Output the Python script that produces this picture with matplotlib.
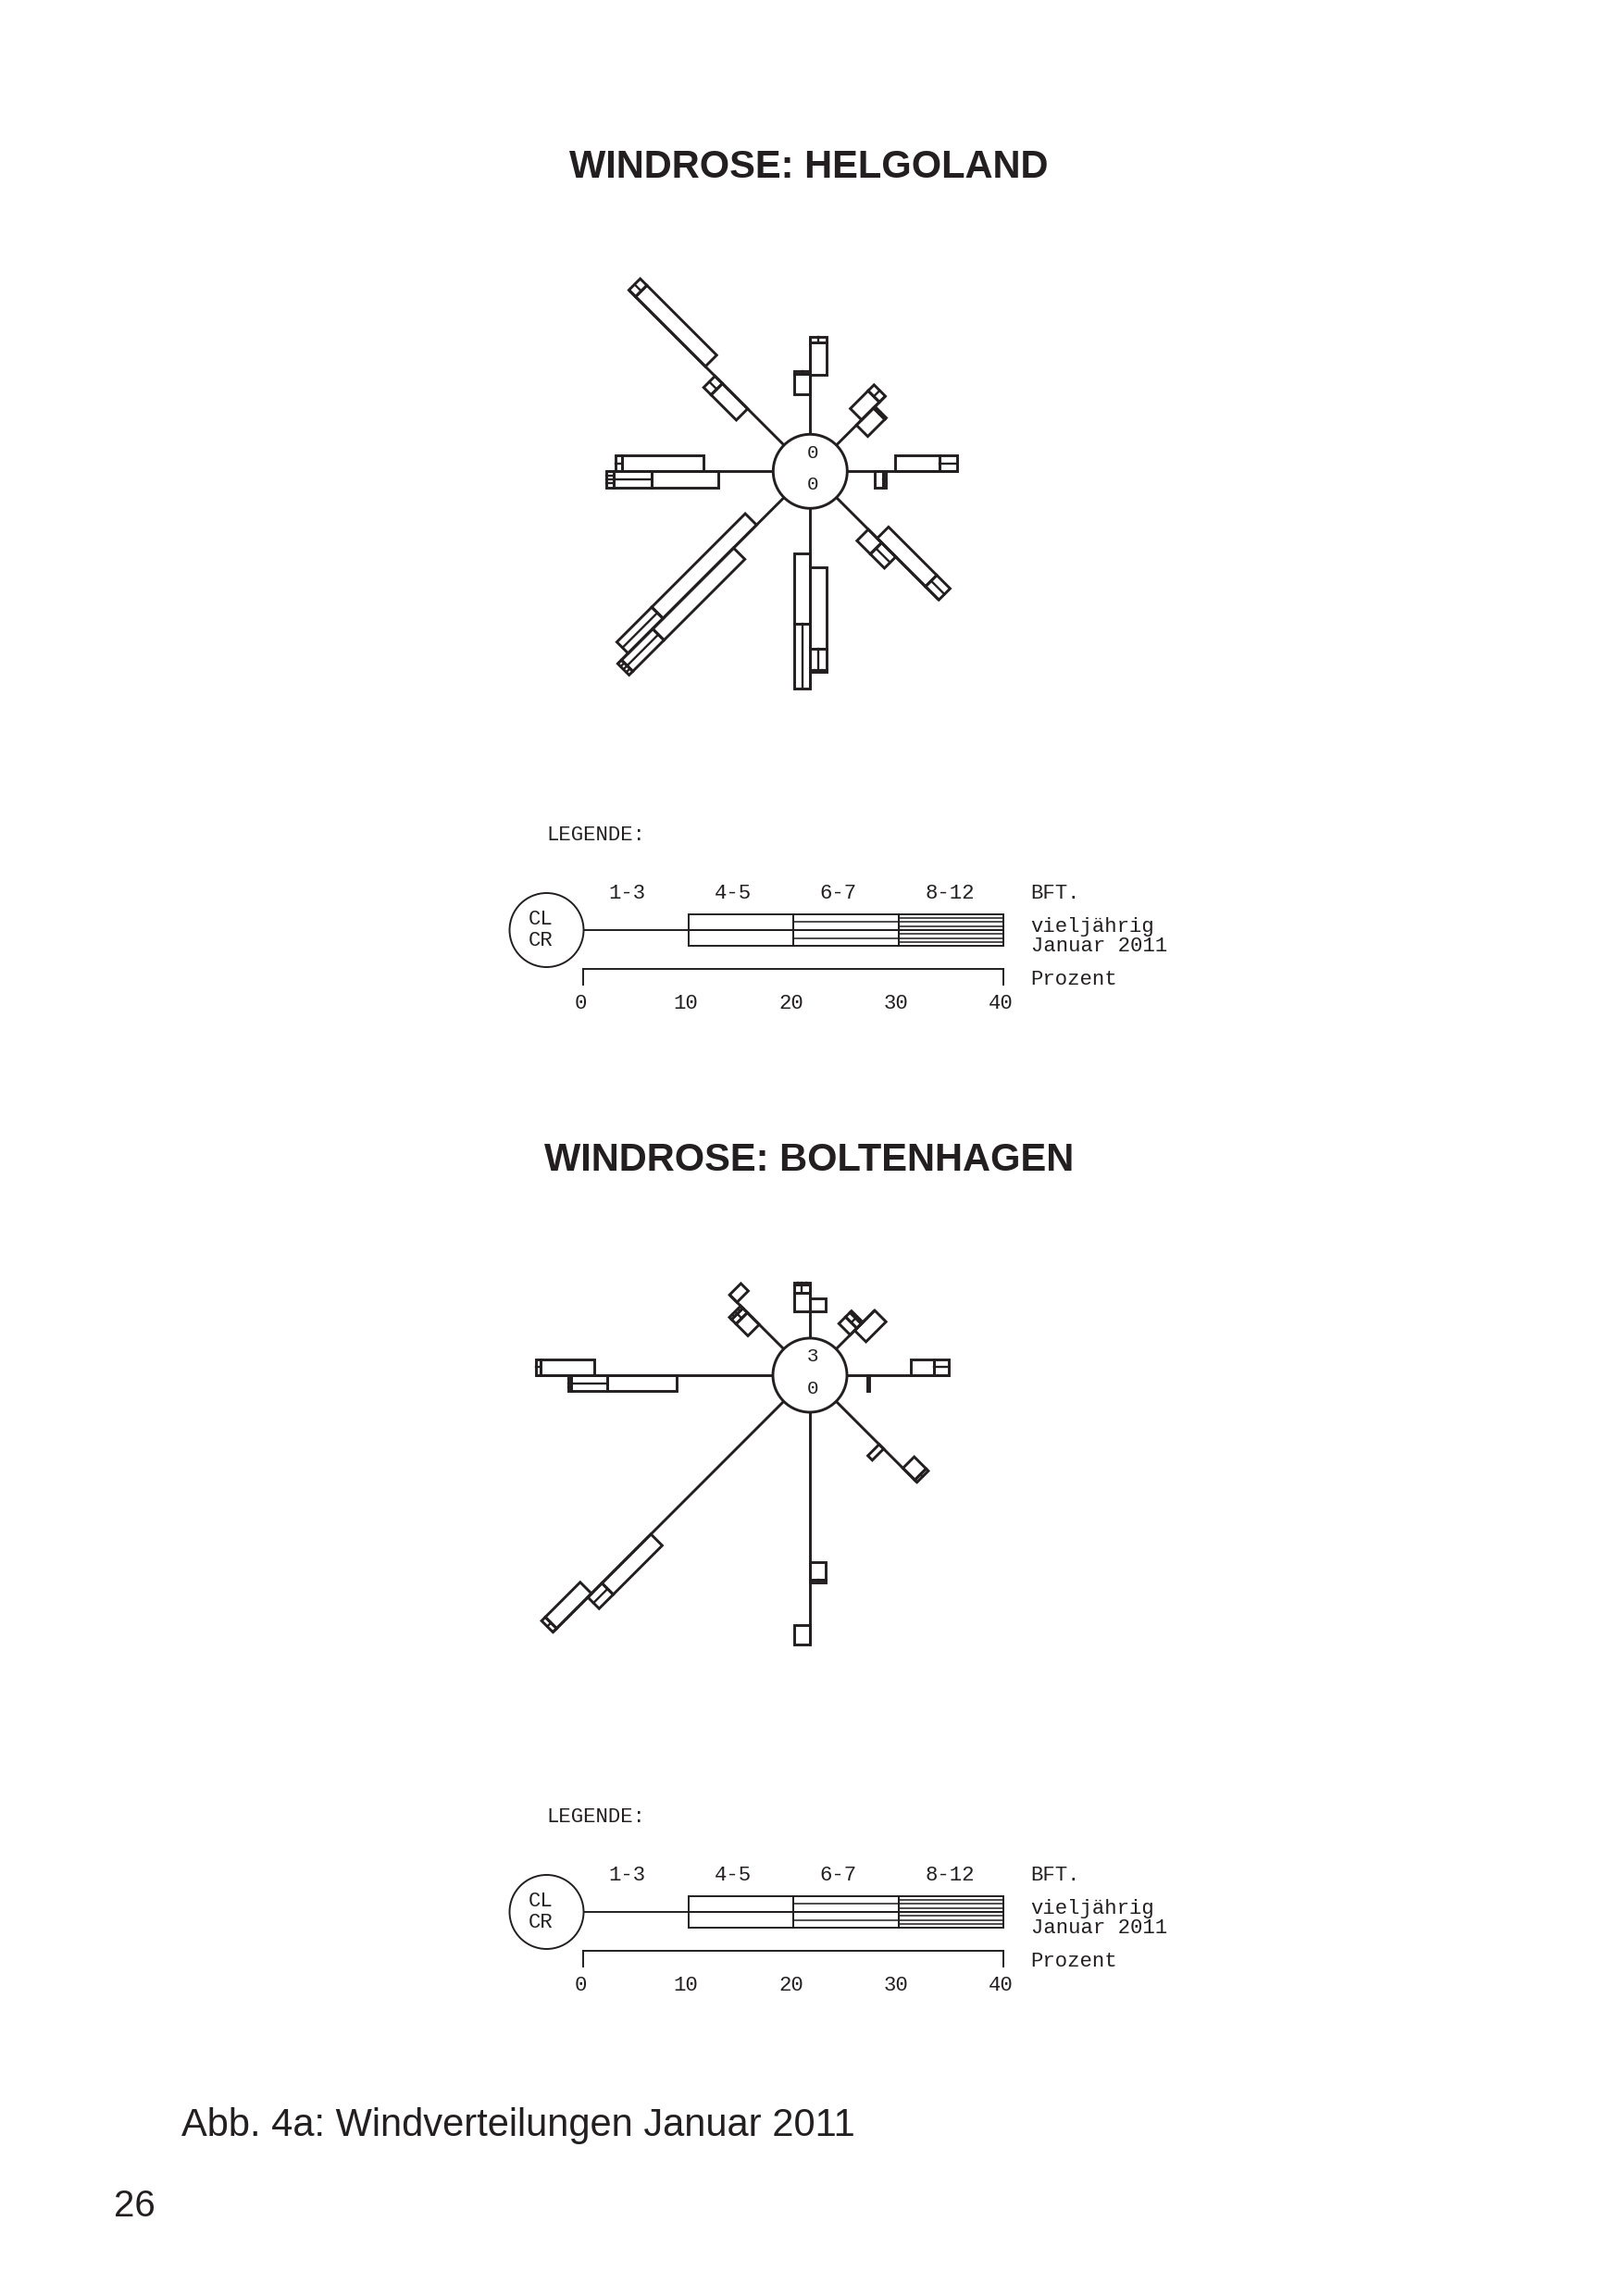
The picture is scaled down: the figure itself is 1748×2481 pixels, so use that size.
"""
Windrosen Helgoland / Boltenhagen, Januar 2011 (Abb. 4a)
Each direction: two half-bars, vieljährig on the counter-clockwise side,
Januar 2011 on the clockwise side. 1-3 Bft is only the ray line.
"""
import numpy as np
import matplotlib
matplotlib.use("Agg")
import matplotlib.pyplot as plt
from matplotlib.patches import Polygon, Circle

W, H, DPI = 1749, 2481, 100
PX = 11.34            # pixels per percent
R0 = 40 / PX          # calm circle radius in percent units
BW = 17.3 / PX        # width of one half-bar in percent units
INK = "#231f20"
MONO = "Liberation Mono"
SANS = "Liberation Sans"

DIRS = ["N", "NE", "E", "SE", "S", "SW", "W", "NW"]
BFT = ["1-3", "4-5", "6-7", "8-12"]

# percent per direction (N..NW) and Beaufort class (1-3, 4-5, 6-7, 8-12)
HEL_VIEL = [[3.8, 2.0, 0.2, 0.0], [3.4, 2.4, 0.8, 0.0], [4.6, 4.2, 1.7, 0.0],
            [5.5, 6.5, 1.8, 0.0], [5.6, 7.8, 2.0, 0.2], [6.8, 10.9, 4.2, 0.5],
            [5.2, 6.4, 3.6, 0.7], [4.9, 3.4, 1.0, 0.0]]
HEL_JAN = [[5.7, 3.1, 0.5, 0.0], [2.7, 2.3, 0.2, 0.0], [2.6, 0.8, 0.3, 0.0],
           [4.3, 1.8, 1.9, 0.0], [4.3, 6.7, 6.2, 0.0], [3.7, 12.6, 4.7, 0.0],
           [6.6, 7.8, 0.6, 0.0], [10.6, 9.4, 0.9, 0.0]]
HEL_CALM = [0, 0]

BOL_VIEL = [[2.6, 1.7, 0.8, 0.2], [1.9, 0.9, 0.6, 0.2], [6.1, 2.2, 1.4, 0.0],
            [9.0, 1.6, 0.3, 0.0], [14.3, 1.7, 0.2, 0.0], [17.9, 6.6, 1.9, 0.0],
            [9.2, 6.6, 3.4, 0.3], [3.3, 1.6, 0.6, 0.3]]
BOL_JAN = [[2.6, 1.2, 0.0, 0.0], [2.5, 2.7, 0.0, 0.0], [1.9, 0.2, 0.0, 0.0],
           [5.8, 0.6, 0.0, 0.0], [20.3, 1.8, 0.0, 0.0], [25.9, 4.7, 0.5, 0.0],
           [17.0, 5.1, 0.5, 0.0], [6.3, 1.0, 0.0, 0.0]]
BOL_CALM = [3, 0]

LEG_VALS = [10, 10, 10, 10]
LEG_TICKS = [0, 10, 20, 30, 40]


def unit_axes(fig, cx, cy, ext):
    """Axes in percent units centred on pixel (cx, cy), PX pixels per unit."""
    s = ext * PX
    ax = fig.add_axes([(cx - s) / W, 1 - (cy + s) / H, 2 * s / W, 2 * s / H])
    ax.set_xlim(-ext, ext)
    ax.set_ylim(-ext, ext)
    ax.set_axis_off()
    return ax


def draw_arm(ax, ang, viel, jan, lw):
    u = np.array([np.cos(ang), np.sin(ang)])
    tot = max(sum(viel), sum(jan))
    ax.plot([R0 * u[0], (R0 + tot) * u[0]], [R0 * u[1], (R0 + tot) * u[1]],
            color=INK, lw=lw, solid_capstyle="butt")
    for vals, side in [(viel, 1), (jan, -1)]:
        n = np.array([-np.sin(ang), np.cos(ang)]) * side
        edges = R0 + np.concatenate([[0], np.cumsum(vals)])
        for k in range(1, 4):
            a, b = edges[k], edges[k + 1]
            if b - a <= 0:
                continue
            pts = [a * u, b * u, b * u + BW * n, a * u + BW * n]
            ax.add_patch(Polygon(pts, closed=True, fill=False, ec=INK,
                                 lw=lw, joinstyle="miter"))
            nl = [0, 1, 3][k - 1]
            for j in range(1, nl + 1):
                p, q = a * u + BW * n * j / (nl + 1), b * u + BW * n * j / (nl + 1)
                ax.plot([p[0], q[0]], [p[1], q[1]], color=INK, lw=lw * 0.8)


def draw_rose(fig, cx, cy, viel, jan, calm):
    ax = unit_axes(fig, cx, cy, 40)
    ax.add_patch(Circle((0, 0), R0, fill=False, ec=INK, lw=2.1))
    for i in range(len(DIRS)):
        draw_arm(ax, np.deg2rad(90 - 45 * i), viel[i], jan[i], 2.1)
    ax.text(0.24, 1.79, str(calm[0]), family=MONO, fontsize=15, color=INK,
            ha="center", va="center")
    ax.text(0.24, -1.25, str(calm[1]), family=MONO, fontsize=15, color=INK,
            ha="center", va="center")


def draw_legend(fig, cx, cy):
    ax = unit_axes(fig, cx, cy, 60)
    ax.add_patch(Circle((0, 0), R0, fill=False, ec=INK, lw=1.4))
    draw_arm(ax, 0.0, LEG_VALS, LEG_VALS, 1.4)
    kw = dict(family=MONO, fontsize=16, color=INK, va="baseline")
    ax.text(R0 - 3.5, 8.52, "LEGENDE:", ha="left", **kw)
    ax.text(-0.55, 0.5, "CL", ha="center", **kw)
    ax.text(-0.55, -1.47, "CR", ha="center", **kw)
    for lab, x in zip(BFT, [2.4, 12.5, 22.5, 32.5]):
        ax.text(R0 + x, 3.0, lab, ha="left", **kw)
    xr = R0 + 42.6
    ax.text(xr, 3.0, "BFT.", ha="left", **kw)
    ax.text(xr, -0.15, "vieljährig", ha="left", **kw)
    ax.text(xr, -2.06, "Januar 2011", ha="left", **kw)
    ax.text(xr, -5.2, "Prozent", ha="left", **kw)
    # percent scale
    ax.plot([R0, R0 + LEG_TICKS[-1]], [-3.73, -3.73], color=INK, lw=1.4)
    for t in [LEG_TICKS[0], LEG_TICKS[-1]]:
        ax.plot([R0 + t, R0 + t], [-3.73, -5.2], color=INK, lw=1.4)
    for t in LEG_TICKS:
        ax.text(R0 + t - 0.25, -7.5, str(t), ha="center", **kw)


fig = plt.figure(figsize=(W / DPI, H / DPI), dpi=DPI, facecolor="white")

fig.text(874 / W, 1 - 181 / H, "WINDROSE: HELGOLAND", family=SANS,
         fontsize=30, fontweight="bold", color=INK, ha="center", va="center")
draw_rose(fig, 875.3, 509.3, HEL_VIEL, HEL_JAN, HEL_CALM)
draw_legend(fig, 590.5, 1005)

fig.text(874 / W, 1 - 1254 / H, "WINDROSE: BOLTENHAGEN", family=SANS,
         fontsize=30, fontweight="bold", color=INK, ha="center", va="center")
draw_rose(fig, 875.0, 1486.0, BOL_VIEL, BOL_JAN, BOL_CALM)
draw_legend(fig, 590.5, 2066)

fig.text(196 / W, 1 - 2297 / H, "Abb. 4a: Windverteilungen Januar 2011",
         family=SANS, fontsize=30, color=INK, ha="left", va="center")
fig.text(123 / W, 1 - 2384 / H, "26", family=SANS, fontsize=29, color=INK,
         ha="left", va="center")

fig.savefig("out.png", dpi=DPI, facecolor="white")
plt.close(fig)
